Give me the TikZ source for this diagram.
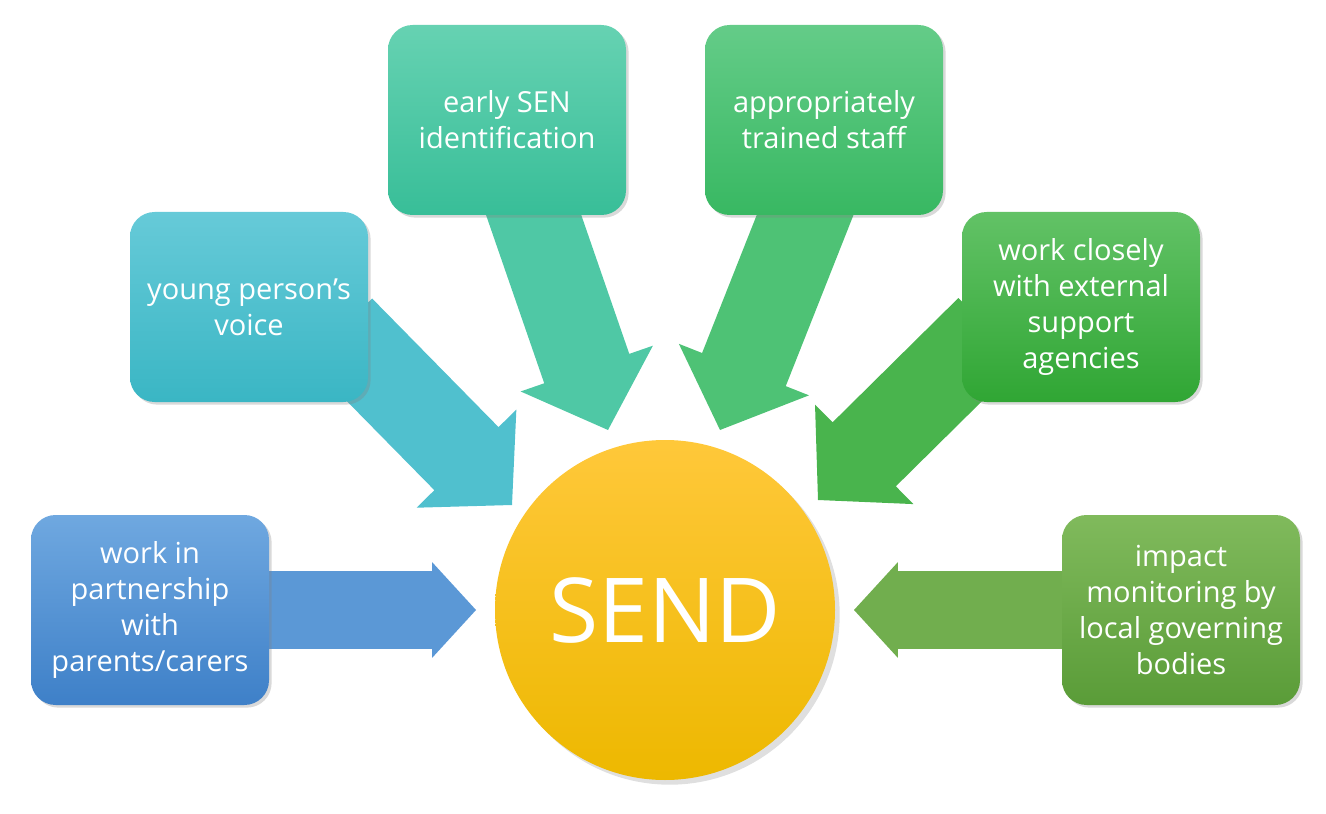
\documentclass[tikz,border=0pt]{standalone}
\usepackage{fontspec}
\setmainfont{Open Sans}
\usetikzlibrary{shadows,calc}
\definecolor{c1a}{HTML}{6FA8E0}\definecolor{c1b}{HTML}{3E80C8}
\definecolor{c2a}{HTML}{66CAD8}\definecolor{c2b}{HTML}{3AB6C4}
\definecolor{c3a}{HTML}{66D2B2}\definecolor{c3b}{HTML}{38BE98}
\definecolor{c4a}{HTML}{64CC88}\definecolor{c4b}{HTML}{38B862}
\definecolor{c5a}{HTML}{62C266}\definecolor{c5b}{HTML}{30A634}
\definecolor{c6a}{HTML}{80BA5C}\definecolor{c6b}{HTML}{5A9C38}
\definecolor{sa}{HTML}{FFC83A}\definecolor{sb}{HTML}{EDB800}
\tikzset{
 box/.style={rounded corners=14pt, minimum width=238*0.02cm, minimum height=190*0.02cm,
   align=center, text=white, font=\fontsize{16.5}{20.5}\selectfont,
   drop shadow={opacity=0.3, shadow xshift=1.5pt, shadow yshift=-1.5pt}},
}
% from, to, half shaft (cm), half head (cm), head length (cm), colour
\newcommand{\arrw}[6]{%
 \coordinate (h) at ($(#2)!#5cm!(#1)$);
 \fill[#6] ($(#1)!#3cm!90:(#2)$) -- ($(h)!#3cm!-90:(#1)$) -- ($(h)!#4cm!-90:(#1)$) -- (#2)
   -- ($(h)!#4cm!90:(#1)$) -- ($(h)!#3cm!90:(#1)$) -- ($(#1)!#3cm!-90:(#2)$) -- cycle;}
\begin{document}
\begin{tikzpicture}[x=0.02cm,y=-0.02cm]
\useasboundingbox (0,0) rectangle (1326,814);
\coordinate (a1s) at (250,610); \coordinate (a1e) at (476,610);
\coordinate (a2s) at (340,330); \coordinate (a2e) at (512,505);
\coordinate (a3s) at (525,190); \coordinate (a3e) at (608,430);
\coordinate (a4s) at (815,190); \coordinate (a4e) at (720,430);
\coordinate (a5s) at (990,330); \coordinate (a5e) at (818,500);
\coordinate (a6s) at (1080,610); \coordinate (a6e) at (854,610);
\arrw{a1s}{a1e}{0.78}{0.96}{0.88}{c1a!60!c1b}
\arrw{a2s}{a2e}{0.9}{1.4}{1.3}{c2a!50!c2b}
\arrw{a3s}{a3e}{0.9}{1.4}{1.3}{c3a!50!c3b}
\arrw{a4s}{a4e}{0.9}{1.4}{1.3}{c4a!50!c4b}
\arrw{a5s}{a5e}{0.9}{1.4}{1.3}{c5a!50!c5b}
\arrw{a6s}{a6e}{0.78}{0.96}{0.88}{c6a!60!c6b}
\node[box, top color=c1a, bottom color=c1b] (b1) at (150,610) {work in\\partnership\\with\\parents/carers};
\node[box, top color=c2a, bottom color=c2b] (b2) at (249,307) {young person{\char"27}s\\voice};
\node[box, top color=c3a, bottom color=c3b] (b3) at (507,120) {early SEN\\identification};
\node[box, top color=c4a, bottom color=c4b] (b4) at (824,120) {appropriately\\trained staff};
\node[box, top color=c5a, bottom color=c5b] (b5) at (1081,307) {work closely\\with external\\support\\agencies};
\node[box, top color=c6a, bottom color=c6b] (b6) at (1181,610) {impact\\monitoring by\\local governing\\bodies};
\node[circle, minimum size=340*0.02cm, top color=sa, bottom color=sb, middle color=sa!50!sb, text=white,
  font=\fontsize{51}{51}\selectfont, drop shadow={opacity=0.25}] (send) at (665,610) {SEND};
\end{tikzpicture}
\end{document}
